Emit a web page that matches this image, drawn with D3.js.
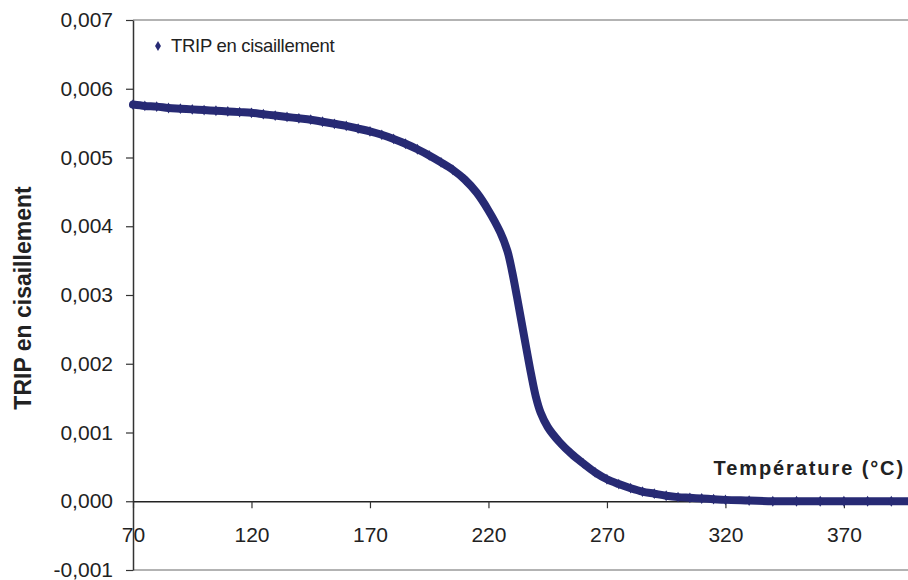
<!DOCTYPE html>
<html>
<head>
  <meta charset="utf-8">
  <script src="https://cdn.jsdelivr.net/npm/d3@7"></script>
  <style>
    body { margin: 0; background: #fff; }
    svg { display: block; font-family: "Liberation Sans", Arial, sans-serif; }
  </style>
</head>
<body>
  <svg id="chart"></svg>

  <script>
    // Temperature (°C) and TRIP en cisaillement values
    var temperature = [70, 75, 80, 85, 90, 95, 100, 105, 110, 115, 120, 125, 130, 135, 140,
      145, 150, 155, 160, 165, 170, 175, 180, 185, 190, 195, 200, 205, 210, 215,
      220, 225, 228, 230, 232, 234, 236, 238, 240, 242, 245, 250, 255, 260, 265,
      270, 275, 280, 285, 290, 295, 300, 305, 310, 315, 320, 330, 340, 350, 360,
      370, 380, 390, 400];
    var trip = [0.00577, 0.00575, 0.00574, 0.00572, 0.00571, 0.00570, 0.00569, 0.00568, 0.00567, 0.00566,
      0.00565, 0.00563, 0.00561, 0.00559, 0.00557, 0.00555, 0.00552, 0.00549, 0.00546, 0.00542,
      0.00538, 0.00533, 0.00527, 0.00520, 0.00512, 0.00503, 0.00493, 0.00482, 0.00468, 0.00449,
      0.00423, 0.00391, 0.00364, 0.00334, 0.00298, 0.00260, 0.00222, 0.00185, 0.00152, 0.00129,
      0.00108, 0.00086, 0.00069, 0.00055, 0.00042, 0.00032, 0.00025, 0.00019, 0.00014, 0.00011,
      0.00008, 0.00006, 0.00005, 0.00004, 0.00003, 0.00002, 0.00001, 0.00000, 0.00000, 0.00000,
      0.00000, 0.00000, 0.00000, 0.00000];

    var xTicks = [70, 120, 170, 220, 270, 320, 370];
    var yTicks = [-0.001, 0, 0.001, 0.002, 0.003, 0.004, 0.005, 0.006, 0.007];

    var seriesName = "TRIP en cisaillement";
    var xTitle = "Température (°C)";
    var yTitle = "TRIP en cisaillement";

    var data = temperature.map((t, i) => ({ t: t, v: trip[i] }));

    var width = 908;
    var height = 580;
    var navy = "#272a74";

    var svg = d3.select("#chart")
      .attr("width", width)
      .attr("height", height);

    var x = d3.scaleLinear().domain([70, 400]).range([133, 915]);
    var y = d3.scaleLinear().domain([-0.001, 0.007]).range([570, 20]);

    // plot area borders (top and bottom)
    svg.append("g")
      .attr("stroke", "#9a9a9a")
      .attr("stroke-width", 1.5)
      .selectAll("line")
      .data([0.007, -0.001])
      .join("line")
      .attr("x1", 133).attr("x2", width)
      .attr("y1", d => y(d)).attr("y2", d => y(d));

    // y axis
    var yAxis = svg.append("g")
      .attr("transform", "translate(133,0)")
      .call(d3.axisLeft(y)
        .tickValues(yTicks)
        .tickSize(7)
        .tickSizeOuter(0)
        .tickPadding(13)
        .tickFormat(d => d3.format(".3f")(d).replace("−", "-").replace(".", ",")));
    yAxis.select(".domain").attr("stroke", "#333").attr("stroke-width", 1.5);
    yAxis.selectAll(".tick line").attr("stroke", "#333").attr("stroke-width", 1.2);
    yAxis.selectAll("text")
      .attr("font-size", 21)
      .attr("font-family", "Liberation Sans, Arial, sans-serif")
      .attr("fill", "#222");

    // x axis on the zero line
    var xAxis = svg.append("g")
      .attr("transform", `translate(0,${y(0)})`)
      .call(d3.axisBottom(x)
        .tickValues(xTicks)
        .tickSize(7)
        .tickSizeOuter(0)
        .tickPadding(19)
        .tickFormat(d3.format("d")));
    xAxis.select(".domain").attr("stroke", "#222").attr("stroke-width", 1.3);
    xAxis.selectAll(".tick line").attr("stroke", "#333").attr("stroke-width", 1.2);
    xAxis.selectAll("text")
      .attr("font-size", 21)
      .attr("font-family", "Liberation Sans, Arial, sans-serif")
      .attr("fill", "#222");

    // the dense marker band, drawn as a thick line plus diamonds
    var line = d3.line()
      .x(d => x(d.t))
      .y(d => y(d.v))
      .curve(d3.curveCatmullRom);

    svg.append("path")
      .datum(data)
      .attr("fill", "none")
      .attr("stroke", navy)
      .attr("stroke-width", 8)
      .attr("stroke-linejoin", "round")
      .attr("stroke-linecap", "round")
      .attr("d", line);

    svg.append("g")
      .attr("fill", navy)
      .selectAll("path")
      .data(data)
      .join("path")
      .attr("transform", d => `translate(${x(d.t)},${y(d.v)})`)
      .attr("d", d3.symbol(d3.symbolDiamond, 34));

    // legend
    svg.append("path")
      .attr("transform", "translate(158,46)")
      .attr("fill", navy)
      .attr("d", d3.symbol(d3.symbolDiamond, 30));
    svg.append("text")
      .attr("x", 171)
      .attr("y", 52)
      .attr("font-size", 18.5)
      .attr("letter-spacing", -0.3)
      .attr("fill", "#222")
      .text(seriesName);

    // axis titles
    svg.append("text")
      .attr("x", 905)
      .attr("y", 475)
      .attr("text-anchor", "end")
      .attr("font-size", 20)
      .attr("font-weight", "bold")
      .attr("letter-spacing", 1.9)
      .attr("fill", "#222")
      .text(xTitle);

    svg.append("text")
      .attr("transform", "translate(31,298) rotate(-90)")
      .attr("text-anchor", "middle")
      .attr("font-size", 23)
      .attr("font-weight", "bold")
      .attr("fill", "#222")
      .text(yTitle);
  </script>
</body>
</html>
